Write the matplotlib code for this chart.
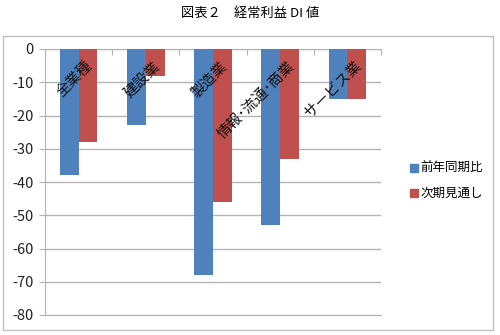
import matplotlib
matplotlib.use("Agg")
import matplotlib.pyplot as plt
from matplotlib.patches import Rectangle
from matplotlib.lines import Line2D
import numpy as np

plt.rcParams['font.family'] = ['Noto Sans CJK JP', 'DejaVu Sans']

categories = ["全業種", "建設業", "製造業", "情報･流通･商業", "サービス業"]
yoy = [-38, -23, -68, -53, -15]        # 前年同期比
outlook = [-28, -8, -46, -33, -15]     # 次期見通し
series_names = ["前年同期比", "次期見通し"]
yticks = [0, -10, -20, -30, -40, -50, -60, -70, -80]

blue = "#4F81BD"
red = "#C0504D"
grid_c = "#B4B4B4"

fig = plt.figure(figsize=(5, 3.35), dpi=100)
fig.patches.append(Rectangle((3/500, 5/335), 490/500, 294/335, transform=fig.transFigure,
                             fill=False, edgecolor="#C0C0C0", linewidth=1.0))
fig.text(0.5, 1 - 13/335, "図表２　経常利益 DI 値", ha="center", va="center", fontsize=9.5)

ax = fig.add_axes([45/500, 1 - 315/335, 336/500, 266/335])
x = np.arange(len(categories))
w = 0.28
ax.bar(x - w/2, yoy, w, color=blue, zorder=3)
ax.bar(x + w/2, outlook, w, color=red, zorder=3)

ax.set_xlim(-0.5, len(categories) - 0.5)
ax.set_ylim(-80, 0)
ax.set_yticks(yticks)
ax.set_yticklabels([str(v) for v in yticks], fontsize=10.5, color="#222222")
ax.yaxis.grid(True, color=grid_c, linewidth=1.0, zorder=0)
ax.tick_params(axis="y", length=4, color=grid_c, pad=4)

# category ticks at the 0 line
ax.xaxis.tick_top()
ax.set_xticks(np.arange(len(categories) + 1) - 0.5)
ax.set_xticklabels([])
ax.tick_params(axis="x", direction="in", length=4, color=grid_c)

ax.spines["right"].set_visible(False)
for s in ["left", "top", "bottom"]:
    ax.spines[s].set_color(grid_c)

for i, lab in enumerate(categories):
    ax.text(i + 0.1, -3.0, lab, rotation=45, rotation_mode="anchor",
            ha="right", va="top", fontsize=10.5, color="#111111", zorder=5)

handles = [Line2D([], [], marker="s", linestyle="none", markersize=5.5, color=c)
           for c in (blue, red)]
fig.legend(handles, series_names, loc="center left", bbox_to_anchor=(396/500, 1 - 181/335),
           frameon=False, fontsize=9, handletextpad=0.05, labelspacing=0.95,
           handlelength=1.0)

fig.savefig("out.png", dpi=100)
